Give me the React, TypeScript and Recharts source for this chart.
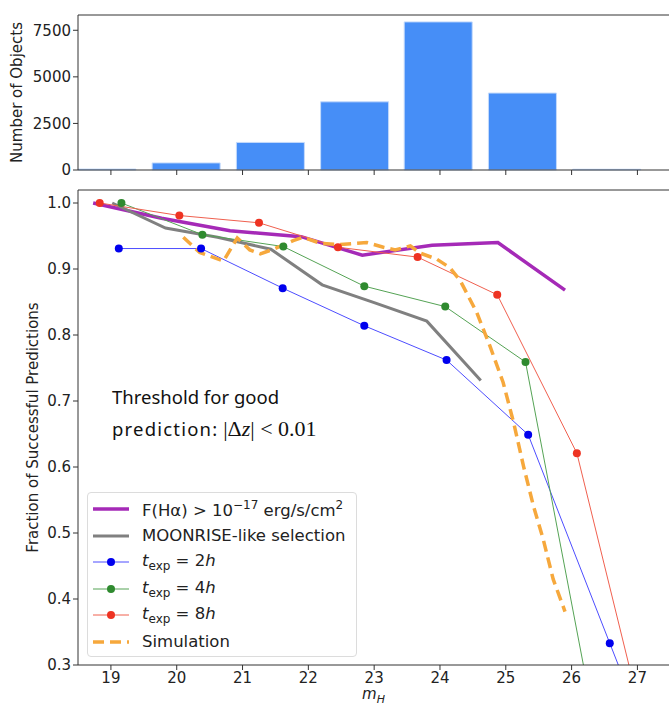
import React from 'react';
import { BarChart, Bar, LineChart, Line, XAxis, YAxis, ReferenceLine, Legend } from 'recharts';

// shared x range (m_H)
const xDomain = [18.5, 27.48];
const xTicks = [19, 20, 21, 22, 23, 24, 25, 26, 27];

// histogram
const binCenters = [18.86, 20.14, 21.42, 22.7, 23.97, 25.25, 26.53];
const binCounts = [50, 380, 1480, 3660, 7950, 4130, 40];
const countTicks = [0, 2500, 5000, 7500];
const countMax = 8320;

// success fraction curves
const fracTicks = [0.3, 0.4, 0.5, 0.6, 0.7, 0.8, 0.9, 1.0];
const fracMax = 1.0197;

const fluxX = [18.73, 19.77, 20.81, 21.89, 22.82, 23.88, 24.88, 25.9];
const fluxY = [1.0, 0.977, 0.958, 0.949, 0.921, 0.936, 0.94, 0.868];

const moonX = [19.02, 19.83, 20.62, 21.43, 22.21, 23.0, 23.8, 24.62];
const moonY = [1.0, 0.962, 0.948, 0.93, 0.876, 0.849, 0.821, 0.731];

const t2X = [19.12, 20.37, 21.61, 22.85, 24.1, 25.34, 26.58, 27.82];
const t2Y = [0.931, 0.931, 0.871, 0.814, 0.762, 0.649, 0.333, 0.018];

const t4X = [19.16, 20.39, 21.62, 22.85, 24.08, 25.3, 26.53];
const t4Y = [1.0, 0.952, 0.934, 0.874, 0.843, 0.759, 0.117];

const t8X = [18.83, 20.04, 21.25, 22.45, 23.66, 24.87, 26.08, 27.29];
const t8Y = [1.0, 0.981, 0.97, 0.933, 0.918, 0.861, 0.621, 0.13];

const simX = [20.1, 20.35, 20.71, 20.92, 21.11, 21.27, 21.47, 21.77, 21.92, 22.18, 22.48, 22.89, 23.14, 23.32,
  23.55, 23.7, 23.95, 24.15, 24.31, 24.56, 24.76, 24.96, 25.12, 25.27, 25.42, 25.57, 25.72, 25.9];
const simY = [0.948, 0.925, 0.912, 0.947, 0.929, 0.923, 0.93, 0.943, 0.948, 0.939, 0.937, 0.94, 0.933, 0.929,
  0.935, 0.924, 0.915, 0.902, 0.882, 0.834, 0.783, 0.728, 0.667, 0.601, 0.541, 0.49, 0.43, 0.381];

const zip = (xs: number[], ys: number[]) => xs.map((x, i) => ({ x, y: ys[i] }));

const histData = binCenters.map((x, i) => ({ x, count: binCounts[i] }));

const C = {
  flux: '#a52ab7',
  moon: '#808080',
  t2: '#0000ee',
  t2line: '#4d4dff',
  t4: '#2f8a2f',
  t4line: '#55a355',
  t8: '#ee3322',
  t8line: '#f0604f',
  sim: '#f6a83c',
};

const tickStyle = { fill: '#222', fontSize: 15 };
const mathFont = 'DejaVu Sans';

const Texp = ({ n }: { n: string }) => (
  <span>
    <i>t</i>
    <sub style={{ fontSize: 12, verticalAlign: -4 }}>exp</sub> = {n}
    <i>h</i>
  </span>
);

const legendRows = [
  { kind: 'line', color: C.flux, width: 3.5, label: <span>F(Hα) &gt; 10<sup style={{ fontSize: 12, verticalAlign: 7 }}>−17</sup> erg/s/cm<sup style={{ fontSize: 12, verticalAlign: 7 }}>2</sup></span> },
  { kind: 'line', color: C.moon, width: 3, label: <span>MOONRISE-like selection</span> },
  { kind: 'dot', color: C.t2, line: C.t2line, label: <Texp n="2" /> },
  { kind: 'dot', color: C.t4, line: C.t4line, label: <Texp n="4" /> },
  { kind: 'dot', color: C.t8, line: C.t8line, label: <Texp n="8" /> },
  { kind: 'dash', color: C.sim, width: 3.5, label: <span>Simulation</span> },
];

const LegendBox = () => (
  <div style={{ boxSizing: 'border-box', width: 270, height: 165, border: '1px solid #dcdcdc', borderRadius: 4,
    background: 'rgba(255,255,255,0.85)', paddingTop: 3, fontFamily: mathFont, fontSize: 16.5, color: '#222' }}>
    {legendRows.map((r, i) => (
      <div key={i} style={{ height: 26.5, display: 'flex', alignItems: 'center' }}>
        <svg width={36} height={14} style={{ marginLeft: 5, marginRight: 13, flex: 'none' }}>
          {r.kind === 'dot' ? (
            <>
              <line x1={0} y1={7} x2={36} y2={7} stroke={r.line} strokeWidth={1} />
              <circle cx={18} cy={7} r={4} fill={r.color} />
            </>
          ) : (
            <line x1={0} y1={7} x2={36} y2={7} stroke={r.color} strokeWidth={r.width}
              strokeDasharray={r.kind === 'dash' ? '11 6' : undefined} />
          )}
        </svg>
        <span style={{ whiteSpace: 'nowrap' }}>{r.label}</span>
      </div>
    ))}
  </div>
);

const MathXLabel = (props: any) => {
  const vb = props.viewBox;
  return (
    <text x={vb.x + vb.width / 2} y={vb.y + vb.height - 9} textAnchor="middle" fontSize={15} fill="#222" fontFamily={mathFont}>
      <tspan fontStyle="italic">m</tspan>
      <tspan fontStyle="italic" fontSize={11} dy={4}>H</tspan>
    </text>
  );
};

const App = () => {
  return (
    <div style={{ position: 'absolute', left: 0, top: 0, width: 669, height: 708, background: '#fff', fontFamily: mathFont }}>
      <div style={{ position: 'absolute', left: 0, top: 0 }}>
        <BarChart width={669} height={185} data={histData} margin={{ top: 15, right: 0, bottom: 0, left: 0 }}>
          <XAxis dataKey="x" type="number" domain={xDomain} ticks={xTicks} allowDataOverflow
            tickFormatter={() => ''} height={15} tickSize={5} stroke="#333" />
          <YAxis domain={[0, countMax]} ticks={countTicks} width={78} tickSize={5} stroke="#333" tick={tickStyle}
            label={{ value: 'Number of Objects', angle: -90, position: 'insideLeft', offset: 17,
              style: { textAnchor: 'middle', fontSize: 15, fill: '#222' } }} />
          <ReferenceLine y={countMax} stroke="#333" />
          <Bar dataKey="count" fill="#468ef7" stroke="#c4dafb" strokeWidth={1} barSize={68} isAnimationActive={false} />
        </BarChart>
      </div>

      <div style={{ position: 'absolute', left: 0, top: 185 }}>
        <LineChart width={669} height={523} margin={{ top: 5, right: 0, bottom: 0, left: 0 }}>
          <XAxis dataKey="x" type="number" domain={xDomain} ticks={xTicks} allowDataOverflow height={43}
            tickSize={5} stroke="#333" tick={tickStyle} label={<MathXLabel />} />
          <YAxis dataKey="y" domain={[0.3, fracMax]} ticks={fracTicks} allowDataOverflow width={78} tickSize={5}
            stroke="#333" tick={tickStyle} tickFormatter={(v: number) => v.toFixed(1)}
            label={{ value: 'Fraction of Successful Predictions', angle: -90, position: 'insideLeft', offset: 33,
              style: { textAnchor: 'middle', fontSize: 15, fill: '#222' } }} />
          <ReferenceLine y={fracMax} stroke="#333" />
          <Line data={zip(fluxX, fluxY)} dataKey="y" stroke={C.flux} strokeWidth={3.5} dot={false} isAnimationActive={false} />
          <Line data={zip(moonX, moonY)} dataKey="y" stroke={C.moon} strokeWidth={3} dot={false} isAnimationActive={false} />
          <Line data={zip(t2X, t2Y)} dataKey="y" stroke={C.t2line} strokeWidth={1}
            dot={{ r: 4, fill: C.t2, stroke: C.t2, strokeWidth: 0 }} isAnimationActive={false} />
          <Line data={zip(t4X, t4Y)} dataKey="y" stroke={C.t4line} strokeWidth={1}
            dot={{ r: 4, fill: C.t4, stroke: C.t4, strokeWidth: 0 }} isAnimationActive={false} />
          <Line data={zip(t8X, t8Y)} dataKey="y" stroke={C.t8line} strokeWidth={1}
            dot={{ r: 4, fill: C.t8, stroke: C.t8, strokeWidth: 0 }} isAnimationActive={false} />
          <Line data={zip(simX, simY)} dataKey="y" stroke={C.sim} strokeWidth={3.5} strokeDasharray="11 6"
            dot={false} isAnimationActive={false} />
          <Legend layout="vertical" align="center" verticalAlign="middle" content={<LegendBox />}
            wrapperStyle={{ left: 87, top: 307, width: 270, height: 165 }} />
        </LineChart>
        <div style={{ position: 'absolute', left: 112, top: 196, fontFamily: 'Noto Sans', fontSize: 18.5, color: '#111', lineHeight: '32px', whiteSpace: 'nowrap' }}>
          <div>Threshold for good</div>
          <div><span style={{ letterSpacing: 1.2 }}>prediction:</span> <span style={{ fontFamily: 'Liberation Serif', fontSize: 22 }}>|Δ<i>z</i>| &lt; 0.01</span></div>
        </div>
      </div>
    </div>
  );
};

export default App;
